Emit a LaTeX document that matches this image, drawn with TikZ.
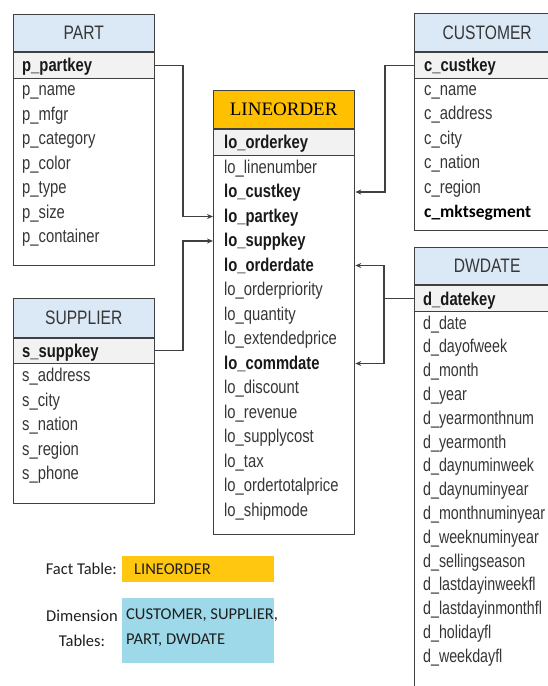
\documentclass[tikz,border=0pt]{standalone}
\usepackage{fontspec}
\setmainfont{Liberation Sans}
\newfontfamily\narrowf{Liberation Sans}[FakeStretch=0.8]
\newfontfamily\narrowd{Liberation Sans}[FakeStretch=0.77]
\newfontfamily\lofont{Liberation Serif}
\newfontfamily\calfont{Carlito}
\usetikzlibrary{arrows.meta}
\definecolor{hdrblue}{HTML}{DBE8F6}
\definecolor{keygrey}{HTML}{F2F2F2}
\definecolor{lineorange}{HTML}{FFC000}
\definecolor{factc}{HTML}{FFC70F}
\definecolor{dimc}{HTML}{9ED9EA}
\definecolor{linec}{HTML}{404040}
\definecolor{fieldc}{HTML}{363636}
\tikzset{
  tbl/.style={draw=linec, line width=1.3pt, anchor=north west, inner sep=0pt},
  hdr/.style={fill=hdrblue, anchor=north west, inner sep=0pt, text=fieldc,
    font=\narrowf\fontsize{19.5}{22}\selectfont},
  keyr/.style={fill=keygrey, anchor=north west, inner sep=0pt},
  sep/.style={draw=linec, line width=1.3pt},
  fld/.style={anchor=west, inner sep=0pt, text height=14pt, text depth=3pt,
    font=\narrowf\fontsize{18.5}{21}\selectfont, text=fieldc},
  dfld/.style={fld, font=\narrowd\fontsize{18.5}{21}\selectfont},
  bfld/.style={fld, font=\narrowf\bfseries\fontsize{18.5}{21}\selectfont, text=black!90},
  conn/.style={draw=linec, line width=1.2pt, -{Stealth[length=6pt,width=5pt]}},
  legt/.style={font=\calfont\fontsize{16.5}{25}\selectfont, text=black!88, inner sep=0pt}
}
\begin{document}
\begin{tikzpicture}[x=1pt,y=-1pt]
\useasboundingbox (0,0) rectangle (548,686);
% ---------- PART ----------
\node[hdr, minimum width=141pt, minimum height=38pt] (part-h) at (13,14) {PART};
\node[keyr, minimum width=141pt, minimum height=26pt] (part-kr) at (13,52) {};
\draw[sep] (part-kr.north west) -- (part-kr.north east);
\draw[sep] (part-kr.south west) -- (part-kr.south east);
\node[bfld] (pk) at (22,66) {p\_partkey};
\node[fld] (p1) at (22,90) {p\_name};
\node[fld] (p2) at (22,114.5) {p\_mfgr};
\node[fld] (p3) at (22,139) {p\_category};
\node[fld] (p4) at (22,163.5) {p\_color};
\node[fld] (p5) at (22,188) {p\_type};
\node[fld] (p6) at (22,212.5) {p\_size};
\node[fld] (p7) at (22,237) {p\_container};
\node[tbl, minimum width=141pt, minimum height=251pt] (part) at (13,14) {};
% ---------- SUPPLIER ----------
\node[hdr, minimum width=141pt, minimum height=40pt] (sup-h) at (13,298) {SUPPLIER};
\node[keyr, minimum width=141pt, minimum height=25pt] (sup-kr) at (13,338) {};
\draw[sep] (sup-kr.north west) -- (sup-kr.north east);
\draw[sep] (sup-kr.south west) -- (sup-kr.south east);
\node[bfld] (sk) at (22,351.5) {s\_suppkey};
\node[fld] (s1) at (22,376) {s\_address};
\node[fld] (s2) at (22,400.5) {s\_city};
\node[fld] (s3) at (22,425) {s\_nation};
\node[fld] (s4) at (22,449.5) {s\_region};
\node[fld] (s5) at (22,474) {s\_phone};
\node[tbl, minimum width=141pt, minimum height=205pt] (sup) at (13,298) {};
% ---------- LINEORDER ----------
\node[hdr, fill=lineorange, text=black, font=\lofont\fontsize{19}{22}\selectfont,
  minimum width=141pt, minimum height=39pt] (lo-h) at (213,90) {LINEORDER};
\node[keyr, minimum width=141pt, minimum height=26pt] (lo-kr) at (213,129) {};
\draw[sep] (lo-kr.north west) -- (lo-kr.north east);
\draw[sep] (lo-kr.south west) -- (lo-kr.south east);
\node[bfld] (lok) at (224,143) {lo\_orderkey};
\node[fld] (lo1) at (224,167.5) {lo\_linenumber};
\node[bfld] (locust) at (224,192) {lo\_custkey};
\node[bfld] (lopart) at (224,216.5) {lo\_partkey};
\node[bfld] (losupp) at (224,241) {lo\_suppkey};
\node[bfld] (lodate) at (224,265.5) {lo\_orderdate};
\node[fld] (lo6) at (224,290) {lo\_orderpriority};
\node[fld] (lo7) at (224,314.5) {lo\_quantity};
\node[fld] (lo8) at (224,339) {lo\_extendedprice};
\node[bfld] (locomm) at (224,363.5) {lo\_commdate};
\node[fld] (lo10) at (224,388) {lo\_discount};
\node[fld] (lo11) at (224,412.5) {lo\_revenue};
\node[fld] (lo12) at (224,437) {lo\_supplycost};
\node[fld] (lo13) at (224,461.5) {lo\_tax};
\node[fld] (lo14) at (224,486) {lo\_ordertotalprice};
\node[fld] (lo15) at (224,510.5) {lo\_shipmode};
\node[tbl, minimum width=141pt, minimum height=444pt] (lo) at (213,90) {};
% ---------- CUSTOMER ----------
\node[hdr, minimum width=146pt, minimum height=39pt] (cus-h) at (414,13) {CUSTOMER};
\node[keyr, minimum width=146pt, minimum height=26pt] (cus-kr) at (414,52) {};
\draw[sep] (cus-kr.north west) -- (cus-kr.north east);
\draw[sep] (cus-kr.south west) -- (cus-kr.south east);
\node[bfld] (ck) at (424,66) {c\_custkey};
\node[fld] (c1) at (424,89.5) {c\_name};
\node[fld] (c2) at (424,114) {c\_address};
\node[fld] (c3) at (424,138.5) {c\_city};
\node[fld] (c4) at (424,163) {c\_nation};
\node[fld] (c5) at (424,187.5) {c\_region};
\node[fld, font=\calfont\bfseries\fontsize{17.5}{20}\selectfont, text=black] (c6) at (424,212) {c\_mktsegment};
\node[tbl, minimum width=146pt, minimum height=217pt] (cus) at (414,13) {};
% ---------- DWDATE ----------
\node[hdr, minimum width=146pt, minimum height=38pt] (dw-h) at (414,247) {DWDATE};
\node[keyr, minimum width=146pt, minimum height=26pt] (dw-kr) at (414,285) {};
\draw[sep] (dw-kr.north west) -- (dw-kr.north east);
\draw[sep] (dw-kr.south west) -- (dw-kr.south east);
\node[bfld] (dk) at (423,299.5) {d\_datekey};
\node[dfld] (d1) at (423,323.5) {d\_date};
\node[dfld] (d2) at (423,347.3) {d\_dayofweek};
\node[dfld] (d3) at (423,371.1) {d\_month};
\node[dfld] (d4) at (423,394.9) {d\_year};
\node[dfld] (d5) at (423,418.7) {d\_yearmonthnum};
\node[dfld] (d6) at (423,442.5) {d\_yearmonth};
\node[dfld] (d7) at (423,466.3) {d\_daynuminweek};
\node[dfld] (d8) at (423,490.1) {d\_daynuminyear};
\node[dfld] (d9) at (423,513.9) {d\_monthnuminyear};
\node[dfld] (d10) at (423,537.7) {d\_weeknuminyear};
\node[dfld] (d11) at (423,561.5) {d\_sellingseason};
\node[dfld] (d12) at (423,585.3) {d\_lastdayinweekfl};
\node[dfld] (d13) at (423,609.1) {d\_lastdayinmonthfl};
\node[dfld] (d14) at (423,632.9) {d\_holidayfl};
\node[dfld] (d15) at (423,656.7) {d\_weekdayfl};
\node[tbl, minimum width=146pt, minimum height=460pt] (dw) at (414,247) {};
% ---------- connectors ----------
\coordinate (jpart) at (183,0);
\coordinate (jcus) at (385,0);
\coordinate (jdw) at (384,0);
\draw[conn] (part-kr.east) -| (jpart |- lopart) -- (lo.west |- lopart);
\draw[conn] (sup-kr.east) -| (jpart |- losupp) -- (lo.west |- losupp);
\draw[conn] (cus-kr.west) -| (jcus |- locust) -- (lo.east |- locust);
\draw[draw=linec, line width=1.2pt] (dw-kr.west) -- (jdw |- dw-kr.west);
\draw[conn] (jdw |- dw-kr.west) -- (jdw |- lodate) -- (lo.east |- lodate);
\draw[conn] (jdw |- dw-kr.west) -- (jdw |- locomm) -- (lo.east |- locomm);
% ---------- legend ----------
\node[legt, anchor=east] (ft) at (117,569) {Fact Table:};
\node[fill=factc, minimum width=152pt, minimum height=26pt, anchor=north west, inner sep=0pt] (fbox) at (122,556) {};
\node[legt, anchor=west] (ftxt) at (134,569) {LINEORDER};
\node[legt, align=center] (dt) at (82,628) {Dimension\\Tables:};
\node[fill=dimc, minimum width=152pt, minimum height=65pt, anchor=north west, inner sep=0pt] (dbox) at (122,598) {};
\node[legt, anchor=west, align=left] (dtxt) at (126,628) {CUSTOMER, SUPPLIER,\\PART, DWDATE};
\end{tikzpicture}
\end{document}
